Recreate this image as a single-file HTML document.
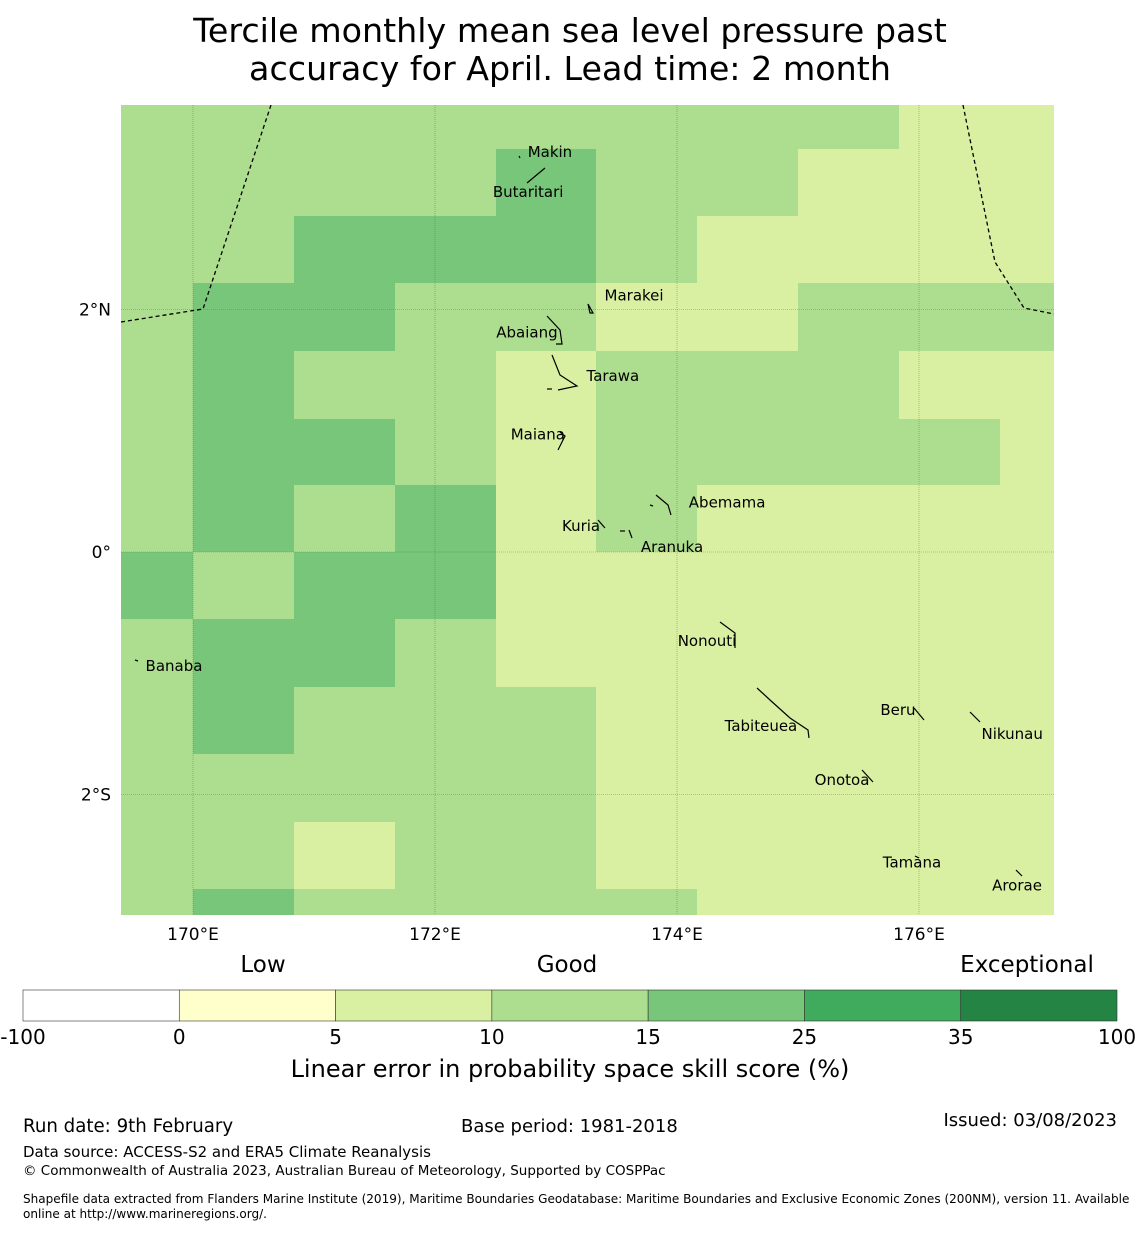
<!DOCTYPE html>
<html><head><meta charset="utf-8"><style>
body{margin:0;background:#fff;font-family:"Liberation Sans","DejaVu Sans",sans-serif;}
svg text{font-family:"DejaVu Sans","Liberation Sans",sans-serif;}
</style></head><body>
<svg id="chart" width="1140" height="1230" xmlns="http://www.w3.org/2000/svg">
<text x="570" y="42" font-size="33.3" text-anchor="middle">Tercile monthly mean sea level pressure past</text>
<text x="570" y="80" font-size="33.3" text-anchor="middle">accuracy for April. Lead time: 2 month</text>
<g id="map"></g>
<g id="cbar"></g>
<text x="23" y="1132" font-size="18.2">Run date: 9th February</text>
<text x="461" y="1132" font-size="18">Base period: 1981-2018</text>
<text x="1117" y="1126" font-size="18" text-anchor="end">Issued: 03/08/2023</text>
<text x="23" y="1157" font-size="15">Data source: ACCESS-S2 and ERA5 Climate Reanalysis</text>
<text x="23" y="1175" font-size="13.5">© Commonwealth of Australia 2023, Australian Bureau of Meteorology, Supported by COSPPac</text>
<text x="23" y="1203" font-size="12.05">Shapefile data extracted from Flanders Marine Institute (2019), Maritime Boundaries Geodatabase: Maritime Boundaries and Exclusive Economic Zones (200NM), version 11. Available</text>
<text x="23" y="1218" font-size="12.05">online at http://www.marineregions.org/.</text>
</svg>
<script>
const NS="http://www.w3.org/2000/svg";
const colEdgesLon=[169.405,170.0,170.833,171.667,172.5,173.333,174.167,175.0,175.833,176.667,177.116];
const rowEdgesLat=[3.687,3.325,2.77,2.215,1.66,1.1,0.55,0,-0.555,-1.11,-1.665,-2.225,-2.78,-2.994];
const grid=[
[12,12,12,12,12,12,12,12,7,7],
[12,12,12,12,20,12,12,7,7,7],
[12,12,20,20,20,12,7,7,7,7],
[12,20,20,12,12,7,7,12,12,12],
[12,20,12,12,7,12,12,12,7,7],
[12,20,20,12,7,12,12,12,12,7],
[12,20,12,20,7,12,7,7,7,7],
[20,12,20,20,7,7,7,7,7,7],
[12,20,20,12,7,7,7,7,7,7],
[12,20,12,12,12,7,7,7,7,7],
[12,12,12,12,12,7,7,7,7,7],
[12,12,7,12,12,7,7,7,7,7],
[12,20,12,12,12,12,7,7,7,7]];
const levels=[-100,0,5,10,15,25,35,100];
const levelColors=["#ffffff","#ffffcc","#d9f0a3","#addd8e","#78c679","#41ab5d","#238443"];
const lonTicks=[170,172,174,176];
const latTicks=[2,0,-2];
const islandNames=["Makin","Butaritari","Marakei","Abaiang","Tarawa","Maiana","Abemama","Kuria","Aranuka","Nonouti","Banaba","Tabiteuea","Beru","Nikunau","Onotoa","Tamana","Arorae"];
const islandLon=[172.95,172.77,173.645,172.76,173.47,172.85,174.414,173.207,173.959,174.248,169.843,174.694,175.826,176.77,175.364,175.942,176.81];
const islandLat=[3.3,2.97,2.115,1.81,1.45,0.97,0.41,0.214,0.04,-0.733,-0.94,-1.435,-1.303,-1.5,-1.88,-2.56,-2.75];
const x=lon=>193+(lon-170)*121;
const y=lat=>552-lat*121.25;
const color=v=>{for(let i=0;i<levels.length-1;i++){if(v>=levels[i]&&v<levels[i+1])return levelColors[i];}return levelColors[6];};
const map=document.getElementById('map');
function el(t,a,p){const e=document.createElementNS(NS,t);for(const k in a)e.setAttribute(k,a[k]);(p||map).appendChild(e);return e;}
grid.forEach((row,r)=>row.forEach((v,c)=>{
 const x0=Math.round(x(colEdgesLon[c])),x1=Math.round(x(colEdgesLon[c+1]));
 const y0=Math.round(y(rowEdgesLat[r])),y1=Math.round(y(rowEdgesLat[r+1]));
 const e=el('rect',{x:x0,y:y0,width:x1-x0,height:y1-y0,fill:color(v)});
 
 
}));
lonTicks.forEach(l=>{const e=el('line',{x1:x(l),x2:x(l),y1:105,y2:915,stroke:'#555','stroke-width':0.6,'stroke-dasharray':'1,1',opacity:0.6});
 
 const t=el('text',{x:x(l),y:940,'font-size':17,'text-anchor':'middle'});t.textContent=l+'°E';
 });
latTicks.forEach(l=>{const e=el('line',{x1:121,x2:1054,y1:y(l),y2:y(l),stroke:'#555','stroke-width':0.6,'stroke-dasharray':'1,1',opacity:0.6});
 
 const t=el('text',{x:111,y:y(l)+6,'font-size':17,'text-anchor':'end'});t.textContent=l>0?l+'°N':l<0?(-l)+'°S':'0°';
 });
const b1=el('polyline',{points:'121,322 203,309 271,105',fill:'none',stroke:'#000','stroke-width':1.3,'stroke-dasharray':'4,3'});

const b2=el('polyline',{points:'963,105 995,262 1024,308 1054,314',fill:'none',stroke:'#000','stroke-width':1.3,'stroke-dasharray':'4,3'});

const outlines=['M527,183 L545,168','M519,156 L520,158','M547,316 L560,330 L562,344 L556,344','M552,355 L560,375 L577,386 L558,390','M547,389 L552,389','M560,432 L565,436 L558,450','M656,495 L668,505 L671,515','M650,505 L653,506','M720,622 L735,633 L735,648','M757,688 L770,700 L790,718 L808,730 L809,738','M914,708 L924,720','M970,712 L980,722','M862,770 L873,782','M1016,870 L1022,876','M588,304 L593,313 L590,313 Z','M598,520 L605,528','M620,531 L625,531','M629,530 L632,538','M915,856 L919,858','M135,660 L138,661'];
outlines.forEach(d=>{const e=el('path',{d:d,fill:'none',stroke:'#000','stroke-width':1.2});
 });
islandNames.forEach((n,i)=>{
 const t=el('text',{x:x(islandLon[i]),y:y(islandLat[i])+5,'font-size':15,'text-anchor':'middle'});t.textContent=n;
 });
const cb=document.getElementById('cbar');
const segW=(1117-23)/7;
levelColors.forEach((c,i)=>{const e=el('rect',{x:23+i*segW,y:990,width:segW,height:31,fill:c,stroke:'#333','stroke-width':0.6},cb);
 });
levels.forEach((l,i)=>{const t=el('text',{x:23+i*segW,y:1044,'font-size':20,'text-anchor':'middle'},cb);t.textContent=l;
 });
[['Low',263],['Good',567],['Exceptional',1027]].forEach(([s,px])=>{const t=el('text',{x:px,y:972,'font-size':23,'text-anchor':'middle'},cb);t.textContent=s;
 });
const ct=el('text',{x:570,y:1077,'font-size':24,'text-anchor':'middle'},cb);ct.textContent='Linear error in probability space skill score (%)';

</script>
</body></html>
